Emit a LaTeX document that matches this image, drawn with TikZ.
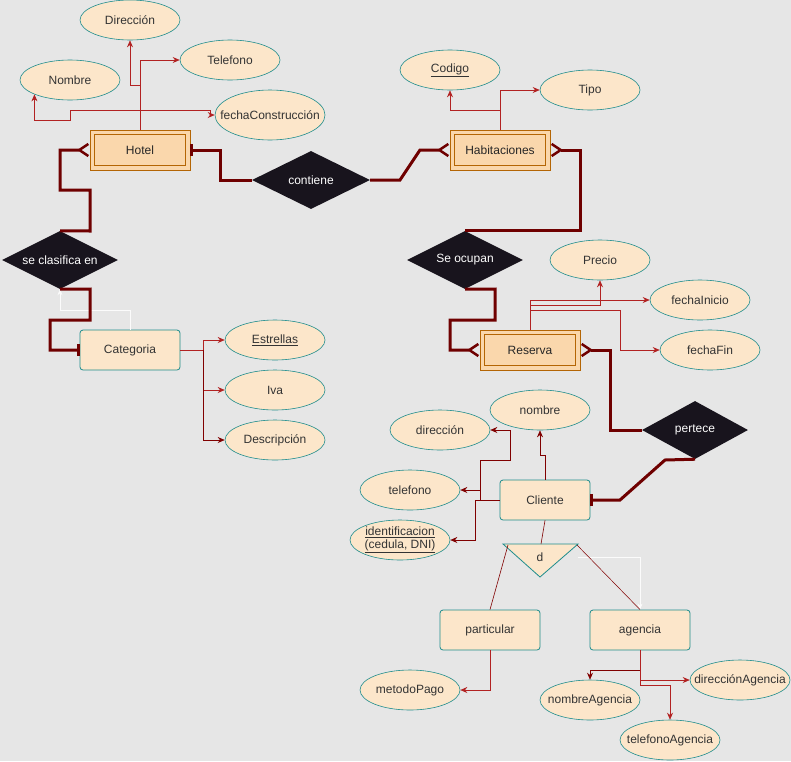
\documentclass[tikz,border=0pt]{standalone}
\usepackage{fontspec}
\setmainfont{Liberation Sans}
\usetikzlibrary{arrows.meta,positioning,shapes.geometric}
\definecolor{fondo}{HTML}{E6E6E6}
\definecolor{crema}{HTML}{FCE6CA}
\definecolor{melon}{HTML}{FAD7AC}
\definecolor{ocre}{HTML}{B46504}
\definecolor{verdeazul}{HTML}{1E8C8C}
\definecolor{granate}{HTML}{6F0000}
\definecolor{rojoA}{HTML}{B22222}
\definecolor{rojoB}{HTML}{800000}
\definecolor{tinta}{HTML}{18141D}
\definecolor{textoG}{HTML}{333333}
\newcommand{\letra}{\fontsize{12}{14}\selectfont}
\tikzset{
  atributo/.style={ellipse, draw=verdeazul, fill=crema, line width=0.6pt, inner xsep=-14pt, inner ysep=-4pt,
                   minimum width=100pt, minimum height=40pt, font=\letra, text=textoG, align=center},
  entidad/.style={rectangle, draw=ocre, fill=melon, line width=0.8pt,
                  minimum width=100pt, minimum height=40pt, font=\letra, text=black!85},
  caja/.style={rectangle, rounded corners=3pt, draw=verdeazul, fill=crema, line width=0.8pt,
               minimum width=#1, minimum height=40pt, font=\letra, text=textoG},
  caja/.default=100pt,
  relacion/.style={diamond, aspect=2, fill=tinta, inner sep=0pt, minimum width=#1,
                   minimum height=58pt, font=\letra, text=white},
  relacion/.default=116pt,
  attr/.style={-{Stealth[length=7pt,width=6pt]}, draw=#1, line width=0.7pt},
  attr/.default=rojoA,
  enlace/.style={draw=granate, line width=3pt},
  uno/.style={enlace, -{Bar[width=12pt]}},
  muchos/.style={enlace, -{Straight Barb[reversed,length=9pt,width=12pt,line width=2.5pt]}},
  tenue/.style={draw=white!85!fondo, line width=0.6pt, -{Stealth[length=6pt,width=5pt]}},
  fina/.style={draw=rojoB, line width=0.6pt},
}
\begin{document}
\begin{tikzpicture}[x=1pt,y=-1pt]
  \useasboundingbox[fill=fondo] (0,0) rectangle (791,761);

  % entidades y relaciones
  \node[entidad] (hotel) at (140,150) {Hotel};
  \node[entidad] (hab) at (500,150) {Habitaciones};
  \node[entidad] (reserva) at (530,350) {Reserva};
  \foreach \e in {hotel,hab,reserva}
    \draw[ocre, line width=0.8pt] ([shift={(5pt,-5pt)}]\e.north west) rectangle ([shift={(-5pt,5pt)}]\e.south east);
  \node[caja] (categoria) at (130,350) {Categoria};
  \node[caja=90pt] (cliente) at (545,500) {Cliente};
  \node[caja] (particular) at (490,630) {particular};
  \node[caja] (agencia) at (640,630) {agencia};
  \node[relacion=118pt] (contiene) at (311,180) {contiene};
  \node[relacion] (clasifica) at (60,260) {se clasifica en};
  \node[relacion] (ocupan) at (465,260) {Se ocupan};
  \node[relacion=106pt] (pertece) at (695,430) {pertece};

  % atributos
  \node[atributo] (direccion) at (130,20) {Dirección};
  \node[atributo] (telefono) at (230,60) {Telefono};
  \node[atributo] (nombre) at (70,80) {Nombre};
  \node[atributo, minimum width=110pt, minimum height=50pt] (fecha) at (270,115) {fechaConstrucción};
  \node[atributo] (codigo) at (450,70) {\underline{Codigo}};
  \node[atributo] (tipo) at (590,90) {Tipo};
  \node[atributo] (estrellas) at (275,340) {\underline{Estrellas}};
  \node[atributo] (iva) at (275,390) {Iva};
  \node[atributo] (desc) at (275,440) {Descripción};
  \node[atributo] (precio) at (600,260) {Precio};
  \node[atributo] (finicio) at (700,300) {fechaInicio};
  \node[atributo] (ffin) at (710,350) {fechaFin};
  \node[atributo] (cnombre) at (540,410) {nombre};
  \node[atributo] (cdir) at (440,430) {dirección};
  \node[atributo] (ctel) at (410,490) {telefono};
  \node[atributo, inner ysep=-8pt] (ident) at (400,540) {\underline{identificacion}\\[-1pt]\underline{(cedula, DNI)}};
  \node[atributo] (metodo) at (410,690) {metodoPago};
  \node[atributo] (anombre) at (590,700) {nombreAgencia};
  \node[atributo] (adir) at (740,680) {direcciónAgencia};
  \node[atributo] (atel) at (670,740) {telefonoAgencia};

  % especializacion
  \coordinate (dA) at (503,544); \coordinate (dB) at (578,544); \coordinate (dC) at (540,577);
  \filldraw[fill=crema, draw=verdeazul, line width=0.8pt] (dA) -- (dB) -- (dC) -- cycle;
  \node[font=\letra, text=textoG] (disj) at (540,557) {d};
  \coordinate (dtop) at (541,544); \coordinate (dizq) at (508,545); \coordinate (dder) at (577,545);

  % lineas de atributos
  \draw[attr] (hotel.north) |- (130,85) -- (direccion.south);
  \draw[attr] (hotel.north) |- (telefono.west);
  \draw[attr] (hotel.north) |- (70,110) -- (70,120) -| (nombre.south west);
  \draw[attr] (hotel.north) |- (210,110) |- (fecha.west);
  \draw[attr] (hab.north) |- (450,110) -- (codigo.south);
  \draw[attr] (hab.north) |- (tipo.west);
  \coordinate (catbus) at (203,350);
  \draw[attr] (categoria.east) -- (catbus) |- (estrellas.west);
  \draw[attr] (catbus) |- (iva.west);
  \draw[attr=rojoB] (catbus) |- (desc.west);
  \draw[attr] (reserva.north) |- (finicio.west);
  \draw[attr] (reserva.north) |- (600,305) -- (precio.south);
  \draw[attr] (reserva.north) |- (620,310) |- (ffin.west);
  \draw[attr=rojoB] (cliente.north) |- (540,455) -- (cnombre.south);
  \draw[attr=rojoB] (cliente.west) -- (480,500) |- (510,460) |- (cdir.east);
  \draw[attr=rojoB] (480,500) |- (ctel.east);
  \draw[attr=rojoB] (cliente.west) -- (475,500) |- (ident.east);
  \draw[attr] (particular.south) |- (metodo.east);
  \draw[attr=rojoB] (agencia.south) |- (590,670) -- (anombre.north);
  \draw[attr] (agencia.south) |- (adir.west);
  \draw[attr] (agencia.south) |- (670,685) -- (atel.north);

  % lineas tenues
  \draw[tenue] (categoria.north) |- (60,310) -- (clasifica.south);
  \draw[tenue] (dB) ++(0,13) coordinate (dtenue) (dtenue) -| (agencia.north);

  % enlaces
  \draw[uno] (contiene.west) -- (220,180) |- (hotel.east);
  \draw[muchos] (contiene.east) -- (400,180) -- (420,150) -- (hab.west);
  \draw[muchos] (ocupan.north) -| (580,150) -- (hab.east);
  \draw[muchos] (ocupan.south) -- (495,289) |- (450,320) |- (reserva.west);
  \draw[muchos] (pertece.west) -- (610,430) |- (reserva.east);
  \draw[uno] (pertece.south) -- (665,460) -- (620,500) -- (cliente.east);
  \draw[muchos] (clasifica.north) -- (90,231) |- (60,190) |- (hotel.west);
  \draw[uno] (clasifica.south) -- (90,289) |- (50,320) |- (categoria.west);
  \draw[fina] (cliente.south) -- (dtop);
  \draw[fina] (dizq) -- (particular.north);
  \draw[fina, line width=0.5pt] (dder) -- (agencia.north);
\end{tikzpicture}
\end{document}
